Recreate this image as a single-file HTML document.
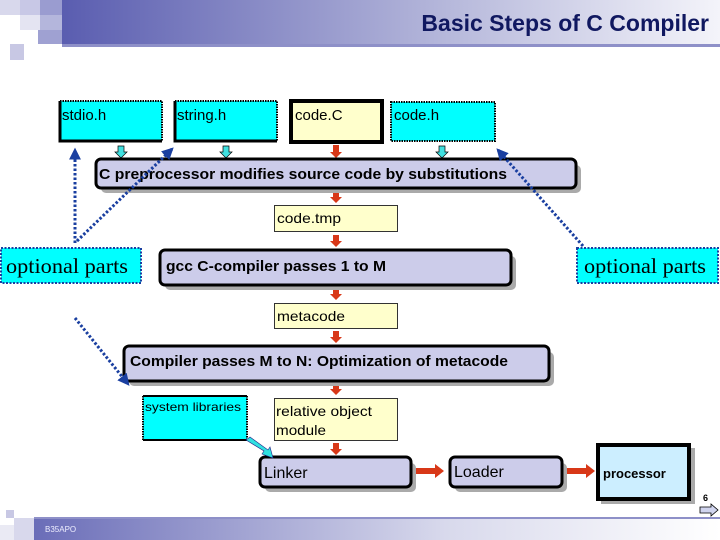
<!DOCTYPE html>
<html><head><meta charset="utf-8"><style>
html,body{margin:0;padding:0;background:#fff;}
svg{display:block;}
text{font-family:"Liberation Sans",Arial,sans-serif;}
</style></head><body>
<svg width="720" height="540" viewBox="0 0 720 540" xmlns="http://www.w3.org/2000/svg">
<defs>
<linearGradient id="hg" x1="0" x2="1" y1="0" y2="0">
<stop offset="0" stop-color="#5a5db0"/><stop offset="0.6" stop-color="#b8badc"/><stop offset="1" stop-color="#f4f4fa"/>
</linearGradient>
<linearGradient id="fg" x1="0" x2="1" y1="0" y2="0">
<stop offset="0" stop-color="#6a6db8"/><stop offset="0.6" stop-color="#d8d9ec"/><stop offset="1" stop-color="#ffffff"/>
</linearGradient>
<marker id="bh" viewBox="0 0 10 10" refX="8" refY="5" markerWidth="4" markerHeight="4" orient="auto"><path d="M0,0L10,5L0,10z" fill="#1a3fa0"/></marker>
</defs>
<!-- header -->
<rect x="62" y="0" width="658" height="44" fill="url(#hg)"/>
<rect x="62" y="44" width="658" height="3" fill="#8e90c8"/>
<rect x="0" y="0" width="62" height="44" fill="#fff"/>
<rect x="0" y="0" width="20" height="15" fill="#d8d8ec"/>
<rect x="20" y="0" width="20" height="15" fill="#c8c8e6"/>
<rect x="40" y="0" width="22" height="15" fill="#9a9cd0"/>
<rect x="20" y="15" width="20" height="15" fill="#e4e4f2"/>
<rect x="40" y="15" width="22" height="15" fill="#b4b6dc"/>
<rect x="38" y="30" width="24" height="14" fill="#9fa1d2"/>
<rect x="10" y="44" width="14" height="16" fill="#c8c8e4"/>
<text x="709" y="31" text-anchor="end" font-size="23" font-weight="bold" fill="#101860">Basic Steps of C Compiler</text>

<!-- top boxes -->
<rect x="59" y="101" width="103" height="40" fill="#00ffff"/>
<path d="M60,101V141H162" fill="none" stroke="#000" stroke-width="3"/>
<path d="M60,101H162V141" fill="none" stroke="#000" stroke-width="2" stroke-dasharray="1.5,1"/>
<text x="62" y="120" font-size="15">stdio.h</text>
<rect x="174" y="101" width="103" height="40" fill="#00ffff"/>
<path d="M175,101V141H277" fill="none" stroke="#000" stroke-width="3"/>
<path d="M175,101H277V141" fill="none" stroke="#000" stroke-width="2" stroke-dasharray="1.5,1"/>
<text x="177" y="120" font-size="15">string.h</text>
<rect x="291" y="101" width="91" height="41" fill="#ffffcc" stroke="#000" stroke-width="4"/>
<text x="295" y="120" font-size="15">code.C</text>
<rect x="391" y="102" width="104" height="39" fill="#00ffff" stroke="#000" stroke-width="2" stroke-dasharray="1.5,1"/>
<text x="394" y="120" font-size="15">code.h</text>

<!-- small arrows -->
<g stroke="#000" stroke-width="0.7">
<path d="M118,146h6v6h3l-6,6l-6,-6h3z" fill="#40e0e0"/>
<path d="M223,146h6v6h3l-6,6l-6,-6h3z" fill="#40e0e0"/>
<path d="M439,146h6v6h3l-6,6l-6,-6h3z" fill="#40e0e0"/>
</g>
<g fill="#d83818">
<path d="M333,145h6v7h3l-6,6l-6,-6h3z"/>
<path d="M333,191h6v6h3l-6,6l-6,-6h3z"/>
<path d="M333,235h6v6h3l-6,6l-6,-6h3z"/>
<path d="M333,288h6v6h3l-6,6l-6,-6h3z"/>
<path d="M333,331h6v6h3l-6,6l-6,-6h3z"/>
<path d="M333,384h6v5h3l-6,6l-6,-6h3z"/>
<path d="M333,443h6v6h3l-6,6l-6,-6h3z"/>
<path d="M413,468h22v-4l9,7l-9,7v-4h-22z"/>
<path d="M565,468h21v-4l9,7l-9,7v-4h-21z"/>
</g>

<!-- process boxes -->
<g>
<rect x="101" y="165" width="480" height="28" rx="5" fill="#aaaaaa"/>
<rect x="96" y="159" width="480" height="29" rx="5" fill="#ccccea" stroke="#000" stroke-width="3"/>
<text x="99" y="179" font-size="15" font-weight="bold" textLength="408" lengthAdjust="spacingAndGlyphs">C preprocessor modifies source code by substitutions</text>

<rect x="165" y="256" width="351" height="34" rx="5" fill="#aaaaaa"/>
<rect x="160" y="250" width="351" height="35" rx="5" fill="#ccccea" stroke="#000" stroke-width="3"/>
<text x="166" y="271" font-size="15" font-weight="bold" textLength="220" lengthAdjust="spacingAndGlyphs">gcc C-compiler passes 1 to M</text>

<rect x="129" y="352" width="425" height="34" rx="5" fill="#aaaaaa"/>
<rect x="124" y="346" width="425" height="35" rx="5" fill="#ccccea" stroke="#000" stroke-width="3"/>
<text x="130" y="366" font-size="15" font-weight="bold" textLength="378" lengthAdjust="spacingAndGlyphs">Compiler passes M to N: Optimization of metacode</text>

<rect x="265" y="463" width="151" height="29" rx="5" fill="#aaaaaa"/>
<rect x="260" y="457" width="151" height="30" rx="5" fill="#ccccea" stroke="#000" stroke-width="3"/>
<text x="264" y="478" font-size="16">Linker</text>

<rect x="455" y="463" width="112" height="29" rx="5" fill="#aaaaaa"/>
<rect x="450" y="457" width="112" height="30" rx="5" fill="#ccccea" stroke="#000" stroke-width="3"/>
<text x="454" y="477" font-size="16">Loader</text>

<rect x="601" y="448" width="94" height="56" fill="#aaaaaa"/>
<rect x="598" y="445" width="91" height="54" fill="#cceeff" stroke="#000" stroke-width="4"/>
<text x="603" y="478" font-size="13" font-weight="bold">processor</text>
</g>

<!-- intermediate files -->
<rect x="274.5" y="205.5" width="123" height="26" fill="#ffffcc" stroke="#333" stroke-width="1"/>
<text x="277" y="223" font-size="14" textLength="64" lengthAdjust="spacingAndGlyphs">code.tmp</text>
<rect x="274.5" y="303.5" width="123" height="25" fill="#ffffcc" stroke="#333" stroke-width="1"/>
<text x="277" y="321" font-size="14" textLength="68" lengthAdjust="spacingAndGlyphs">metacode</text>
<rect x="274.5" y="398.5" width="123" height="42" fill="#ffffcc" stroke="#333" stroke-width="1"/>
<text x="276" y="416" font-size="14" textLength="96" lengthAdjust="spacingAndGlyphs">relative object</text>
<text x="276" y="435" font-size="14" textLength="50" lengthAdjust="spacingAndGlyphs">module</text>

<!-- system libraries -->
<rect x="143" y="396" width="104" height="44" fill="#00ffff"/>
<path d="M143,396H247M143,440H247" stroke="#000" stroke-width="2"/>
<path d="M143,396V440M247,396V440" stroke="#000" stroke-width="2" stroke-dasharray="1.5,1"/>
<text x="145" y="411" font-size="12" textLength="96" lengthAdjust="spacingAndGlyphs">system libraries</text>
<path d="M246,440L264,451L262,454L273,458L270,447L268,450L250,437z" fill="#30e0e0" stroke="#228" stroke-width="0.6"/>

<!-- optional parts -->
<rect x="1" y="248" width="140" height="35" fill="#00ffff" stroke="#1a3fa0" stroke-width="2" stroke-dasharray="2,1.5"/>
<text x="6" y="273" font-size="21" textLength="122" lengthAdjust="spacingAndGlyphs" style="font-family:'Liberation Serif',serif">optional parts</text>
<rect x="577" y="248" width="141" height="35" fill="#00ffff" stroke="#1a3fa0" stroke-width="2" stroke-dasharray="2,1.5"/>
<text x="584" y="273" font-size="21" textLength="122" lengthAdjust="spacingAndGlyphs" style="font-family:'Liberation Serif',serif">optional parts</text>

<!-- dashed blue connectors -->
<g fill="none" stroke="#1a3fa0" stroke-width="3" stroke-dasharray="2.5,2">
<path d="M75,243V150" marker-end="url(#bh)"/>
<path d="M77,241L172,149" marker-end="url(#bh)"/>
<path d="M583,246L498,150" marker-end="url(#bh)"/>
<path d="M75,318L128,384" marker-end="url(#bh)"/>
</g>

<!-- footer -->
<rect x="34" y="517" width="686" height="23" fill="url(#fg)"/>
<rect x="34" y="517" width="686" height="2" fill="#8e90c8"/>
<rect x="6" y="510" width="8" height="8" fill="#c8c8e4"/>
<rect x="14" y="518" width="20" height="22" fill="#d8d8ec"/>
<rect x="0" y="525" width="14" height="15" fill="#eaeaf4"/>
<text x="45" y="532" font-size="8" fill="#eef">B35APO</text>
<text x="703" y="501" font-size="9" font-weight="bold">6</text>
<path d="M700,507h11v-3l7,6l-7,6v-3h-11z" fill="#d0d4ee" stroke="#000" stroke-width="0.8"/>
</svg>
</body></html>
